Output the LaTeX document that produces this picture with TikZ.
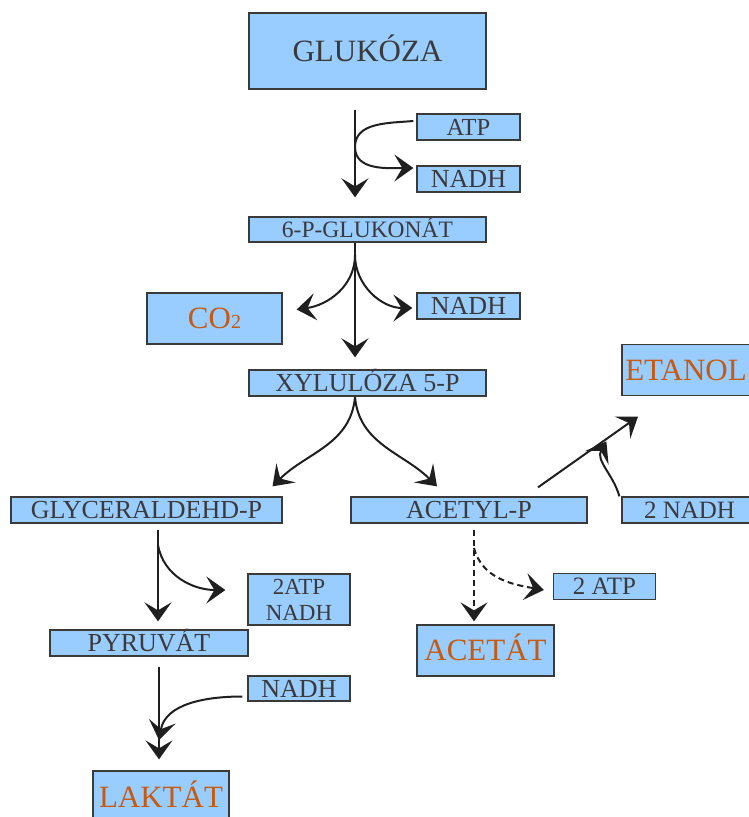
\documentclass[tikz,border=0pt]{standalone}
\usepackage{fontspec}
\setmainfont{Liberation Serif}
\usetikzlibrary{arrows.meta}

\definecolor{boxblue}{RGB}{153,204,255}
\definecolor{labelgray}{RGB}{58,58,58}
\definecolor{prodorange}{RGB}{197,90,17}

\tikzset{
	mol/.style={draw=labelgray, fill=boxblue, text=labelgray, line width=1.3pt, inner sep=0pt,
		text height=17pt, text depth=0pt, font=\fontsize{26}{28}\selectfont},
	prod/.style={mol, text=prodorange, text height=20.5pt, font=\fontsize{31}{33}\selectfont},
	flow/.style={draw=black!88, line width=2.2pt, -{Stealth[length=19pt, width=27pt, inset=8pt]}},
	side/.style={flow, line width=2pt},
}

\begin{document}
\begin{tikzpicture}[x=1pt, y=-1pt]
	\useasboundingbox (0,0) rectangle (748,817);
	% Boxes:
	\node[mol, text height=20.5pt, font=\fontsize{31}{33}\selectfont, minimum width=237pt, minimum height=76pt](glu) at (367.5,51){GLUKÓZA};
	\node[mol, text height=16pt, font=\fontsize{24.5}{26}\selectfont, minimum width=103pt, minimum height=26pt](atpA) at (468.5,127){ATP};
	\node[mol, minimum width=103pt, minimum height=26pt](nadhA) at (468.5,179){NADH};
	\node[mol, text height=15.5pt, font=\fontsize{23.5}{25}\selectfont, minimum width=237pt, minimum height=25pt](glk) at (367.5,229.5){6-P-GLUKONÁT};
	\node[prod, minimum width=135pt, minimum height=51pt](co2) at (214.5,318.5){CO{\fontsize{20}{20}\selectfont 2}};
	\node[mol, minimum width=103pt, minimum height=26pt](nadhB) at (468.5,306){NADH};
	\node[mol, minimum width=237pt, minimum height=26pt](xyl) at (367.5,383){XYLULÓZA 5-P};
	\node[prod, minimum width=128pt, minimum height=51pt](etanol) at (686,370){ETANOL};
	\node[mol, minimum width=271pt, minimum height=26pt](gap) at (146.5,510){GLYCERALDEHD-P};
	\node[mol, minimum width=236pt, minimum height=26pt](acp) at (469,510){ACETYL-P};
	\node[mol, text height=16.5pt, font=\fontsize{25}{27}\selectfont, minimum width=135pt, minimum height=26pt](nadhC) at (689.5,510){2 NADH};
	\node[mol, font=\fontsize{23}{26}\selectfont, align=center, text height=, text depth=,
		minimum width=102pt, minimum height=51pt](atpnadh) at (299,599.5){2ATP\\NADH};
	\node[mol, minimum width=198pt, minimum height=26pt](pyr) at (149,643){PYRUVÁT};
	\node[mol, minimum width=102pt, minimum height=25pt](nadhD) at (299,688.5){NADH};
	\node[prod, minimum width=136pt, minimum height=52pt](lak) at (161,797){LAKTÁT};
	\node[mol, text height=16.5pt, font=\fontsize{25}{27}\selectfont, minimum width=102pt, minimum height=26pt](atpB) at (604.5,586.5){2 ATP};
	\node[prod, minimum width=137pt, minimum height=51pt](acet) at (485.5,650.5){ACETÁT};

	% Branch points:
	\coordinate (sA) at (355,110);
	\coordinate (sB) at (355,243);
	\coordinate (sC) at (355,397);
	\coordinate (sD) at (158,530);
	\coordinate (sE) at (159,667);
	\coordinate (sF) at (474,530);

	% Arrows:
	\draw[flow, shorten >=19pt] (sA) -- (sA |- glk.north);
	\draw[side] ([xshift=-3pt, yshift=6pt]atpA.west) to[out=185, in=90] (355,147) to[out=-90, in=180] ([xshift=-3pt, yshift=11pt]nadhA.west);
	\draw[flow, shorten >=12pt] (sB) -- (sB |- xyl.north);
	\draw[side] ([yshift=-12pt]sB) to[out=-90, in=8] ([xshift=14pt, yshift=9pt]co2.east);
	\draw[side] ([yshift=-12pt]sB) to[out=-90, in=180] ([xshift=-4pt, yshift=-2pt]nadhB.west);
	\draw[side] (sC) to[out=-95, in=45] ([xshift=126pt, yshift=10pt]gap.north);
	\draw[side] (sC) to[out=-85, in=135] ([xshift=-32pt, yshift=10pt]acp.north);
	\draw[side] ([xshift=69pt, yshift=9pt]acp.north) -- ([xshift=-48pt, yshift=-20.5pt]etanol.south);
	\draw[side] ([xshift=-2pt]nadhC.north west) to[out=105, in=240] ([xshift=-15pt, yshift=55pt]nadhC.north west);
	\draw[flow, shorten >=8pt] (sD) -- (sD |- pyr.north);
	\draw[side] ([yshift=-15pt]sD) to[out=-80, in=180] ([xshift=-22pt, yshift=9.5pt]atpnadh.west);
	\draw[flow, shorten >=11pt] (sE) -- (sE |- lak.north);
	\draw[side] ([xshift=-5pt, yshift=-8pt]nadhD.west) to[out=180, in=80] ([yshift=-73pt]sE);
	\draw[side, shorten >=3pt, dash pattern=on 6pt off 4pt] (sF) -- (sF |- acet.north);
	\draw[side, dash pattern=on 6pt off 4pt] ([yshift=-18pt]sF) to[out=-75, in=170] ([xshift=-9pt, yshift=-3.5pt]atpB.west);
\end{tikzpicture}
\end{document}
